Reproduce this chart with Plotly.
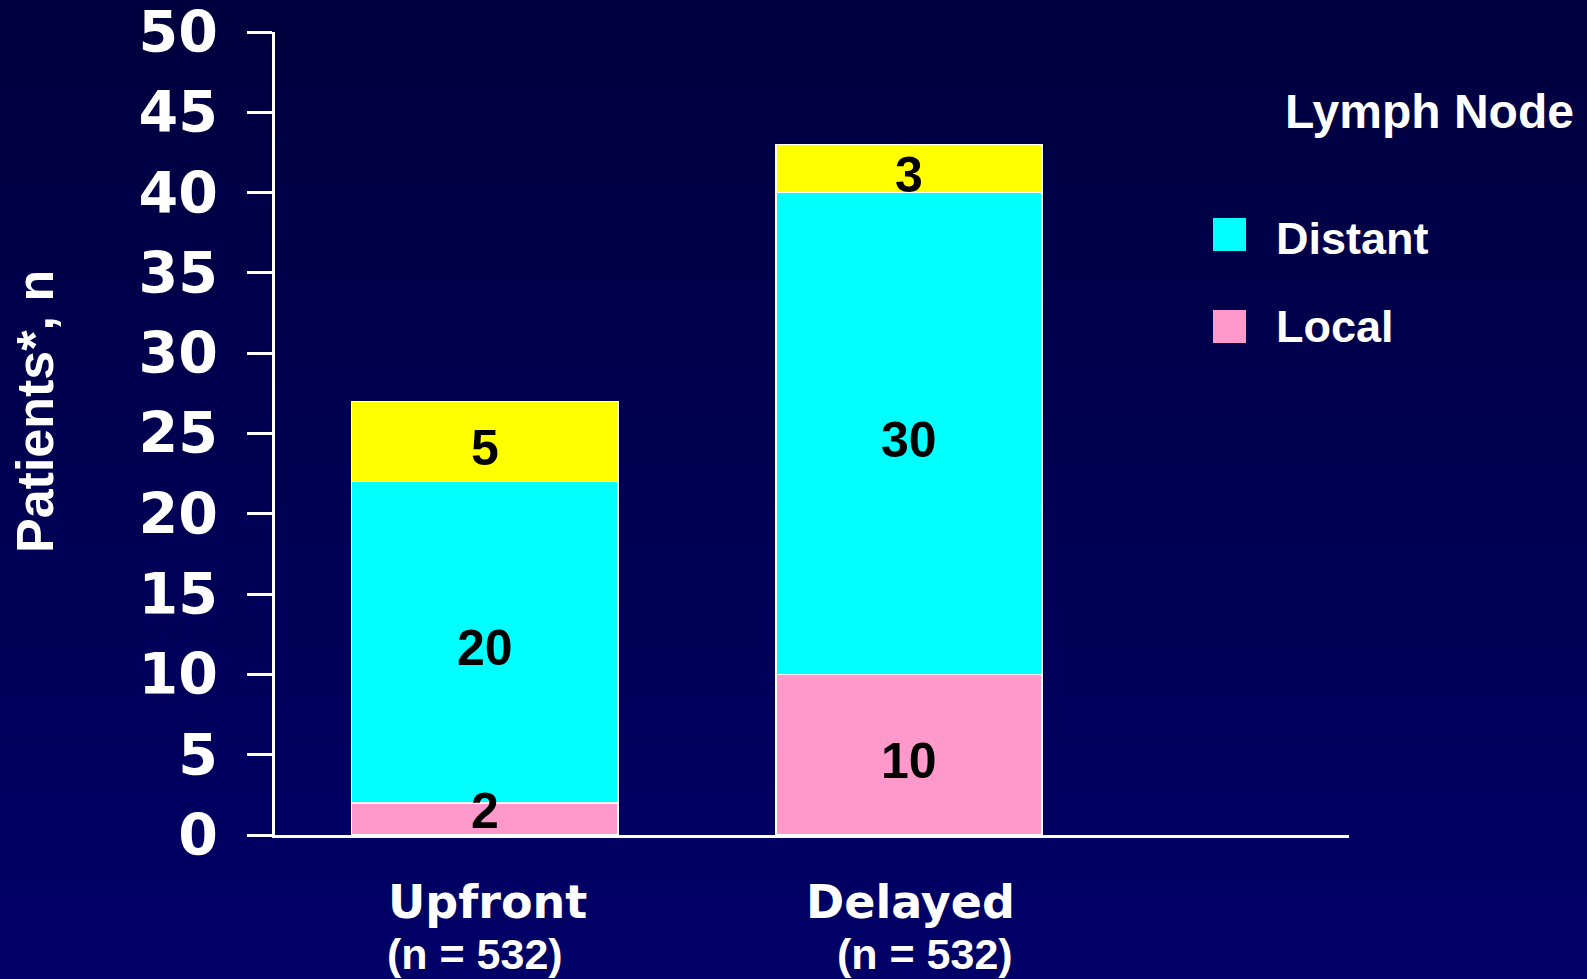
import base64
import plotly.graph_objects as go

# Data
categories = ["Upfront", "Delayed"]
group_n = [532, 532]
series_names = ["Local", "Distant", "Other"]
local_vals = [2, 10]
distant_vals = [20, 30]
other_vals = [5, 3]
y_ticks = [0, 5, 10, 15, 20, 25, 30, 35, 40, 45, 50]
legend_title = "Lymph Node"
y_title = "Patients*, n"

# Styling
colors = {"Local": "#FF99CC", "Distant": "#00FFFF", "Other": "#FFFF00"}
W, H = 1587, 979
PL, PR, PT, PB = 275, 1349, 32, 835  # plot-area pixel box


def px_x(px):
    return (px - PL) / (PR - PL)


def px_y(py):
    return (PB - py) / (PB - PT)


fig = go.Figure()
values = {"Local": local_vals, "Distant": distant_vals, "Other": other_vals}
for name in series_names:
    fig.add_trace(go.Bar(
        x=categories, y=values[name], name=name,
        marker=dict(color=colors[name], line=dict(color="white", width=1.5)),
        width=0.628, showlegend=False, hoverinfo="x+y+name",
    ))

# Segment value labels
annotations = []
for i, cat in enumerate(categories):
    base = 0
    for name in series_names:
        v = values[name][i]
        annotations.append(dict(
            x=cat, y=base + v / 2, xref="x", yref="y", text=f"<b>{v}</b>",
            showarrow=False, yshift=(-6 if v >= 3 else 8),
            font=dict(family="Liberation Sans Narrow, Arial Narrow, Liberation Sans", size=50, color="black"),
        ))
        base += v

# Category labels with group sizes
name_shift = [3, 2]
n_shift = [-100, 106]
n_anchor = ["left", "right"]
for i, cat in enumerate(categories):
    annotations.append(dict(
        x=cat, xref="x", y=px_y(902), yref="paper", text=f"<b>{cat}</b>",
        showarrow=False, xshift=name_shift[i], yanchor="middle",
        font=dict(family="DejaVu Sans", size=46, color="white"),
    ))
    annotations.append(dict(
        x=cat, xref="x", y=px_y(954), yref="paper", text=f"<b>(n = {group_n[i]})</b>",
        showarrow=False, xshift=n_shift[i], xanchor=n_anchor[i], yanchor="middle",
        font=dict(family="Liberation Sans", size=43, color="white"),
    ))

# Y-axis title
annotations.append(dict(
    x=px_x(35), y=px_y(412), xref="paper", yref="paper", text=f"<b>{y_title}</b>",
    textangle=-90, showarrow=False, xanchor="center", yanchor="middle",
    font=dict(family="Liberation Sans", size=52, color="white"),
))

# Legend
annotations.append(dict(
    x=px_x(1283), y=px_y(112), xref="paper", yref="paper", text=f"<b>{legend_title}</b>",
    showarrow=False, xanchor="left", yanchor="middle",
    font=dict(family="Liberation Sans", size=48, color="white"),
))
shapes = []
legend_items = ["Distant", "Local"]
legend_rows = [(218, 238), (310, 326)]
for name, (top, mid) in zip(legend_items, legend_rows):
    shapes.append(dict(
        type="rect", xref="paper", yref="paper",
        x0=px_x(1213), x1=px_x(1246), y0=px_y(top + 33), y1=px_y(top),
        fillcolor=colors[name], line=dict(width=0),
    ))
    annotations.append(dict(
        x=px_x(1274), y=px_y(mid), xref="paper", yref="paper", text=f"<b>{name}</b>",
        showarrow=False, xanchor="left", yanchor="middle",
        font=dict(family="Liberation Sans", size=45, color="white"),
    ))

# Vertical navy gradient behind everything
svg = ('<svg xmlns="http://www.w3.org/2000/svg" width="10" height="100" viewBox="0 0 10 100" '
       'preserveAspectRatio="none"><defs><linearGradient id="g" x1="0" y1="0" x2="0" y2="1">'
       '<stop offset="0" stop-color="#00003E"/><stop offset="1" stop-color="#000068"/>'
       '</linearGradient></defs><rect width="10" height="100" fill="url(#g)"/></svg>')
bg_src = "data:image/svg+xml;base64," + base64.b64encode(svg.encode()).decode()

fig.update_layout(
    width=W, height=H,
    margin=dict(l=PL, r=W - PR, t=PT, b=H - PB, pad=0, autoexpand=False),
    paper_bgcolor="#000050", plot_bgcolor="rgba(0,0,0,0)",
    barmode="stack", bargap=0.372,
    showlegend=False,
    annotations=annotations, shapes=shapes,
    images=[dict(source=bg_src, xref="paper", yref="paper",
                 x=px_x(0), y=px_y(0), sizex=px_x(W) - px_x(0), sizey=px_y(0) - px_y(H),
                 xanchor="left", yanchor="top", sizing="stretch", layer="below")],
    xaxis=dict(range=[-0.495, 2.038], showline=True, linecolor="white", linewidth=2.5,
               showticklabels=False, ticks="", showgrid=False, zeroline=False,
               automargin=False, fixedrange=True),
    yaxis=dict(range=[0, 50], tickvals=y_ticks, showline=True, linecolor="white", linewidth=2.5,
               ticks="outside", ticklen=25, tickwidth=2.5, tickcolor="white",
               ticklabelstandoff=18, ticklabeloverflow="allow", showgrid=False, zeroline=False,
               automargin=False,
               tickfont=dict(family="DejaVu Sans", size=57, color="white", weight="bold")),
    font=dict(color="white"),
)

fig.write_html("out.html")
